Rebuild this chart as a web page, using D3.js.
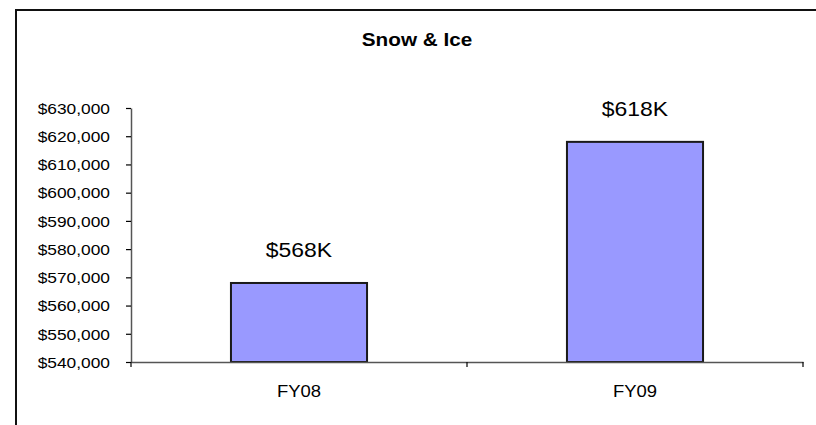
<!DOCTYPE html>
<html>
<head>
<meta charset="utf-8">
<script src="https://cdn.jsdelivr.net/npm/d3@7"></script>
<style>
  html, body { margin: 0; background: #fff; overflow: hidden; }
  svg { display: block; }
  text { font-family: "Liberation Sans", Arial, sans-serif; fill: #000; }
</style>
</head>
<body>
<script>
const categories = ["FY08", "FY09"];
const values = [568000, 618000];
const valueLabels = ["$568K", "$618K"];
const yTicks = [540000, 550000, 560000, 570000, 580000, 590000, 600000, 610000, 620000, 630000];
const title = "Snow & Ice";

const width = 816, height = 425;
const stretch = 1.12; // text in the reference is a bit wider than tall
const plot = { left: 131, right: 803, top: 108, bottom: 362 };

const svg = d3.select("body").append("svg")
  .attr("width", width)
  .attr("height", height)
  .style("overflow", "hidden");

// outer frame: only its left and top edges are inside the picture
svg.append("path")
  .attr("d", `M16,${height + 5}V10H${width + 5}`)
  .attr("fill", "none")
  .attr("stroke", "#111")
  .attr("stroke-width", 2);

const y = d3.scaleLinear()
  .domain([540000, 630000])
  .range([plot.bottom, plot.top]);

const x = d3.scaleBand()
  .domain(categories)
  .range([plot.left, plot.right])
  .padding(0);

const barW = x.bandwidth() * 0.405;

// title
svg.append("text")
  .attr("transform", `translate(${(plot.left + plot.right) / 2 - 50},46) scale(${stretch},1)`)
  .attr("text-anchor", "middle")
  .style("font-size", "18.5px")
  .style("font-weight", "bold")
  .text(title);

// bars
svg.append("g")
  .selectAll("rect")
  .data(values)
  .join("rect")
  .attr("x", (d, i) => x(categories[i]) + (x.bandwidth() - barW) / 2)
  .attr("y", d => y(d))
  .attr("width", barW)
  .attr("height", d => y(540000) - y(d))
  .attr("fill", "#9999ff")
  .attr("stroke", "#1a1a1a")
  .attr("stroke-width", 2);

// value labels
svg.append("g")
  .selectAll("text")
  .data(values)
  .join("text")
  .attr("transform", (d, i) =>
    `translate(${x(categories[i]) + x.bandwidth() / 2},${y(d) - 26}) scale(${stretch},1)`)
  .attr("text-anchor", "middle")
  .style("font-size", "20.5px")
  .text((d, i) => valueLabels[i]);

// y axis
const fmt = d3.format("$,");
const yAxis = d3.axisLeft(y)
  .tickValues(yTicks)
  .tickSize(5)
  .tickSizeOuter(0)
  .tickFormat(fmt);

svg.append("g")
  .attr("transform", `translate(${plot.left},0)`)
  .call(yAxis)
  .call(g => g.select(".domain").attr("stroke", "#555").attr("stroke-width", 1.5))
  .call(g => g.selectAll(".tick line").attr("stroke", "#000").attr("stroke-width", 1.2))
  .call(g => g.selectAll(".tick text")
    .attr("x", null).attr("dy", "0.34em")
    .attr("transform", `translate(-21,0) scale(${stretch},1)`)
    .style("font-size", "15.5px")
    .style("font-family", "'Liberation Sans', Arial, sans-serif")
    .attr("fill", "#000"));

// x axis
const xAxis = d3.axisBottom(x)
  .tickSize(0)
  .tickSizeOuter(0);

const gx = svg.append("g")
  .attr("transform", `translate(0,${plot.bottom})`)
  .call(xAxis)
  .call(g => g.select(".domain").attr("stroke", "#555").attr("stroke-width", 1.5))
  .call(g => g.selectAll(".tick text")
    .attr("y", null).attr("dy", null)
    .attr("transform", `translate(0,35) scale(${stretch},1)`)
    .style("font-size", "16.5px")
    .style("font-family", "'Liberation Sans', Arial, sans-serif")
    .attr("fill", "#000"));

// category boundary ticks on the x axis
const bounds = [x(categories[0]), x(categories[1]), x(categories[1]) + x.bandwidth()];
gx.append("g")
  .selectAll("line")
  .data(bounds)
  .join("line")
  .attr("x1", d => d).attr("x2", d => d)
  .attr("y1", 0).attr("y2", 5)
  .attr("stroke", "#000")
  .attr("stroke-width", 1.2);
</script>
</body>
</html>
